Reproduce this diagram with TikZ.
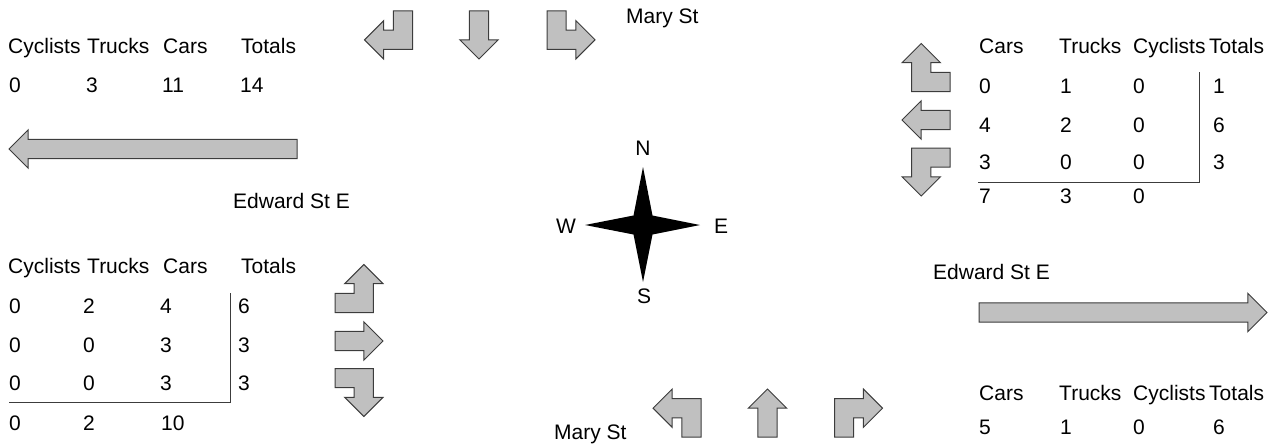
\documentclass[tikz,border=0pt]{standalone}
\usepackage{fontspec}
\setmainfont{Liberation Sans}
\definecolor{arrowgray}{RGB}{192,192,192}
\definecolor{edgegray}{RGB}{60,60,60}
\tikzset{
  lbl/.style={inner sep=0pt,anchor=base west,font=\fontsize{21}{25}\selectfont},
  dirlbl/.style={inner sep=0pt,anchor=base,font=\fontsize{21}{25}\selectfont},
  arrowbody/.style={fill=arrowgray,draw=edgegray,line width=1pt},
  tabline/.style={draw=edgegray,line width=1pt},
  bendarrow/.pic={\filldraw[arrowbody,scale=9.6](0.5,-2.5)--(2.5,-2.5)--(2.5,1.5)--(-0.5,1.5)--(-0.5,2.5)--(-2.5,0.5)--(-0.5,-1.5)--(-0.5,-0.5)--(0.5,-0.5)--cycle;},
  straightarrow/.pic={\filldraw[arrowbody,scale=9.6](-1,-2.5)--(1,-2.5)--(1,0.5)--(2,0.5)--(0,2.5)--(-2,0.5)--(-1,0.5)--cycle;}
}

\begin{document}
\begin{tikzpicture}[x=1pt,y=-1pt]
\useasboundingbox (0,0) rectangle (1281,444);
% street names
\node[lbl](marytop) at (626,24){Mary St};
\node[lbl](marybot) at (554,439){Mary St};
\node[lbl](edwardw) at (233,208){Edward St E};
\node[lbl](edwarde) at (933,279){Edward St E};
% compass
\coordinate (c) at (643,225);
\fill (643,167)--(652.5,215.5)--(700,225)--(652.5,234.5)--(643,282)--(633.5,234.5)--(585,225)--(633.5,215.5)--cycle;
\node[dirlbl](north) at (643,155){N};
\node[dirlbl](south) at (644,303){S};
\node[dirlbl](west) at (566,233){W};
\node[dirlbl](east) at (721,233){E};
% southbound (Mary St, top)
\pic at (388.5,35){bendarrow};
\pic at (479,35){straightarrow};
\pic[xscale=-1] at (571,35){bendarrow};
% westbound (east side)
\pic[rotate=-90] at (926,67.5){bendarrow};
\pic[rotate=-90] at (926,120){straightarrow};
\pic[rotate=-90,xscale=-1] at (926,172){bendarrow};
% eastbound (west side)
\pic[rotate=90,xscale=-1] at (359,288.5){bendarrow};
\pic[rotate=90] at (359,341){straightarrow};
\pic[rotate=90] at (359,392.5){bendarrow};
% northbound (Mary St, bottom)
\pic[rotate=180,xscale=-1] at (677,413){bendarrow};
\pic[rotate=180] at (767.5,413){straightarrow};
\pic[rotate=180] at (858.5,413){bendarrow};
% Edward St arrows
\filldraw[arrowbody](297,139.4)--(28.2,139.4)--(28.2,129.8)--(9,149)--(28.2,168.2)--(28.2,158.6)--(297,158.6)--cycle;
\filldraw[arrowbody](979,302.9)--(1247.8,302.9)--(1247.8,293.3)--(1267,312.5)--(1247.8,331.7)--(1247.8,322.1)--(979,322.1)--cycle;
% table north-west
\node[lbl](nwcyc) at (8,54){Cyclists};
\node[lbl](nwtrk) at (87,54){Trucks};
\node[lbl](nwcar) at (163,54){Cars};
\node[lbl](nwtot) at (241,54){Totals};
\node[lbl](nwa) at (9,92){0};
\node[lbl](nwb) at (86,92){3};
\node[lbl](nwc) at (162,92){11};
\node[lbl](nwd) at (240,92){14};
% table north-east
\node[lbl](necar) at (979,53){Cars};
\node[lbl](netrk) at (1059,53){Trucks};
\node[lbl](necyc) at (1133,53){Cyclists};
\node[lbl](netot) at (1209,53){Totals};
\foreach \a/\b/\c/\t/\y in {0/1/0/1/93,4/2/0/6/132,3/0/0/3/169}{
  \node[lbl](nea\y) at (979,\y){\a};
  \node[lbl](neb\y) at (1060,\y){\b};
  \node[lbl](nec\y) at (1133,\y){\c};
  \node[lbl](ned\y) at (1213,\y){\t};
}
\node[lbl](nesa) at (979,203){7};
\node[lbl](nesb) at (1060,203){3};
\node[lbl](nesc) at (1133,203){0};
\draw[tabline](1199,72)--(1199,182)--(978,182);
% table south-west
\node[lbl](swcyc) at (8,273){Cyclists};
\node[lbl](swtrk) at (87,273){Trucks};
\node[lbl](swcar) at (163,273){Cars};
\node[lbl](swtot) at (241,273){Totals};
\foreach \a/\b/\c/\t/\y in {0/2/4/6/313,0/0/3/3/352,0/0/3/3/390}{
  \node[lbl](swa\y) at (9,\y){\a};
  \node[lbl](swb\y) at (83,\y){\b};
  \node[lbl](swc\y) at (160,\y){\c};
  \node[lbl](swd\y) at (238,\y){\t};
}
\node[lbl](swsa) at (9,430){0};
\node[lbl](swsb) at (83,430){2};
\node[lbl](swsc) at (161,430){10};
\draw[tabline](230,293)--(230,402)--(9,402);
% table south-east
\node[lbl](secar) at (979,400){Cars};
\node[lbl](setrk) at (1059,400){Trucks};
\node[lbl](secyc) at (1133,400){Cyclists};
\node[lbl](setot) at (1209,400){Totals};
\node[lbl](sea) at (979,434){5};
\node[lbl](seb) at (1060,434){1};
\node[lbl](sec) at (1133,434){0};
\node[lbl](sed) at (1213,434){6};
\end{tikzpicture}
\end{document}
